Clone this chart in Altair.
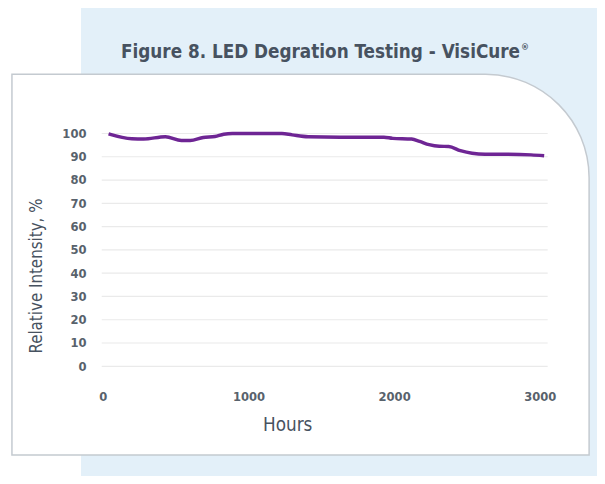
import altair as alt
import pandas as pd

# ---- data ----
hours = [40, 200, 280, 430, 540, 600, 690, 770, 830, 890, 1230, 1300, 1410,
         1630, 1930, 1990, 2120, 2175, 2240, 2310, 2375, 2455, 2535, 2625,
         2760, 2940, 3030]
intensity = [99.8, 97.7, 97.6, 98.6, 97.0, 97.0, 98.3, 98.7, 99.7, 100.0,
             100.0, 99.4, 98.6, 98.4, 98.4, 97.9, 97.6, 96.6, 95.2, 94.5,
             94.4, 92.6, 91.5, 91.1, 91.1, 90.8, 90.4]
y_ticks = [0, 10, 20, 30, 40, 50, 60, 70, 80, 90, 100]
x_ticks = [0, 1000, 2000, 3000]
title_main = "Figure 8. LED Degration Testing - VisiCure"
title_mark = "®"
x_title = "Hours"
y_title = "Relative Intensity, %"

df = pd.DataFrame({"Hours": hours, "Intensity": intensity})
grid_df = pd.DataFrame({"g": y_ticks})
one = pd.DataFrame({"k": [0]})

W, H = 452, 236
FONT = "DejaVu Sans Condensed, Liberation Sans Narrow, Roboto, sans-serif"
LABEL_COLOR = "#58626C"
TITLE_COLOR = "#475260"

xscale = alt.Scale(domain=[-7, 3054], nice=False, zero=False)
yscale = alt.Scale(domain=[0, 100], nice=False)

y_axis = alt.Axis(
    values=y_ticks, title=y_title, grid=False, domain=False, ticks=False,
    tickSize=0, labelPadding=16, labelFont=FONT, labelFontSize=13,
    labelFontWeight="bold", labelColor=LABEL_COLOR,
    titleFont=FONT, titleFontSize=17, titleFontWeight="normal",
    titleColor=TITLE_COLOR, titleX=-66, titleY=144, titleAngle=270,
    titleBaseline="middle", titleAlign="center", zindex=1,
)
x_axis = alt.Axis(
    values=x_ticks, title=x_title, grid=False, domain=False, ticks=False,
    tickSize=0, labelPadding=25, labelFont=FONT, labelFontSize=13,
    labelFontWeight="bold", labelColor=LABEL_COLOR, format="d",
    titleFont=FONT, titleFontSize=19, titleFontWeight="normal",
    titleColor=TITLE_COLOR, titleX=188, titleY=59,
    titleBaseline="middle", titleAlign="center", zindex=1,
)

panel = alt.Chart(one).mark_rect(color="#E3F0F9").encode(
    x=alt.value(-21), x2=alt.value(W + 60),
    y=alt.value(-130), y2=alt.value(H + 120),
)

card = alt.Chart(one).mark_rect(
    color="white", stroke="#C4CAD0", strokeWidth=1.5, cornerRadiusTopRight=105
).encode(
    x=alt.value(-91), x2=alt.value(494),
    y=alt.value(-60), y2=alt.value(326),
)

title = alt.Chart(one).mark_text(
    text=title_main, font=FONT, fontSize=19, fontWeight="bold",
    color=TITLE_COLOR, align="right", baseline="middle",
).encode(x=alt.value(424), y=alt.value(-82))

title_r = alt.Chart(one).mark_text(
    text=title_mark, font=FONT, fontSize=9, fontWeight="bold",
    color=TITLE_COLOR, align="left", baseline="middle",
).encode(x=alt.value(425), y=alt.value(-88))

grid = alt.Chart(grid_df).mark_rule(color="#EAEAEA", strokeWidth=1.2).encode(
    y=alt.Y("g:Q", scale=yscale, axis=y_axis)
)

line = alt.Chart(df).mark_line(
    color="#6E2594", strokeWidth=3.5, interpolate="monotone"
).encode(
    x=alt.X("Hours:Q", scale=xscale, axis=x_axis),
    y=alt.Y("Intensity:Q", scale=yscale, axis=y_axis),
)

chart = alt.layer(panel, card, title, title_r, grid, line).properties(
    width=W, height=H,
    autosize=alt.AutoSizeParams(type="none"),
    padding={"left": 95, "top": 124, "right": 50, "bottom": 108},
    background="white",
).configure_view(stroke=None)

chart.save("out.html", embed_options={"renderer": "svg", "actions": False})
